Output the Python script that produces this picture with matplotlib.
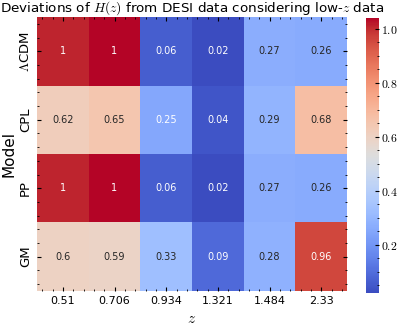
import numpy as np
import pandas as pd
import matplotlib
matplotlib.use("Agg")
import matplotlib.pyplot as plt
import seaborn as sns
from matplotlib.ticker import FuncFormatter, AutoMinorLocator

plt.rcParams["font.family"] = ["DejaVu Sans"]
plt.rcParams["mathtext.fontset"] = "cm"
plt.rcParams["xtick.direction"] = "in"
plt.rcParams["ytick.direction"] = "in"
plt.rcParams["xtick.top"] = True
plt.rcParams["ytick.right"] = True
plt.rcParams["xtick.minor.visible"] = True
plt.rcParams["ytick.minor.visible"] = True

models = [r"$\Lambda$CDM", "CPL", "PP", "GM"]
z_bins = ["0.51", "0.706", "0.934", "1.321", "1.484", "2.33"]

lcdm = [1.01, 1.04, 0.06, 0.02, 0.27, 0.26]
cpl = [0.62, 0.65, 0.25, 0.04, 0.29, 0.68]
pp = [1.01, 1.04, 0.06, 0.02, 0.27, 0.26]
gm = [0.6, 0.59, 0.33, 0.09, 0.28, 0.96]

df = pd.DataFrame([lcdm, cpl, pp, gm], index=models, columns=z_bins)

fig = plt.figure(figsize=(4.0, 3.29), dpi=100)
ax = fig.add_axes([0.0925, 0.116, 0.775, 0.832])
cax = fig.add_axes([0.915, 0.109, 0.033, 0.836])

sns.heatmap(df, ax=ax, cbar_ax=cax, cmap="coolwarm", annot=True, fmt=".2g",
            annot_kws={"fontsize": 7})

ax.set_title(r"Deviations of $H(z)$ from DESI data considering low-$z$ data",
             fontsize=9.7, pad=3)
ax.set_xlabel(r"$z$", fontsize=11)
ax.set_ylabel("Model", fontsize=11, labelpad=2)
ax.set_xticklabels(z_bins, fontsize=8, rotation=0)
ax.set_yticklabels(models, fontsize=9.5, rotation=90, va="center")
ax.xaxis.set_minor_locator(AutoMinorLocator(5))
ax.yaxis.set_minor_locator(AutoMinorLocator(5))
ax.tick_params(which="both", direction="in", top=True, right=True)
ax.tick_params(which="major", length=3)
ax.tick_params(which="minor", length=1.5)

cax.yaxis.set_major_formatter(FuncFormatter(lambda v, p: f"${v:.1f}$"))
cax.yaxis.set_minor_locator(AutoMinorLocator(4))
cax.tick_params(which="both", direction="in", labelsize=8.5, pad=1)
cax.tick_params(which="major", length=3)
cax.tick_params(which="minor", length=1.5)

fig.savefig("out.png", dpi=100)
